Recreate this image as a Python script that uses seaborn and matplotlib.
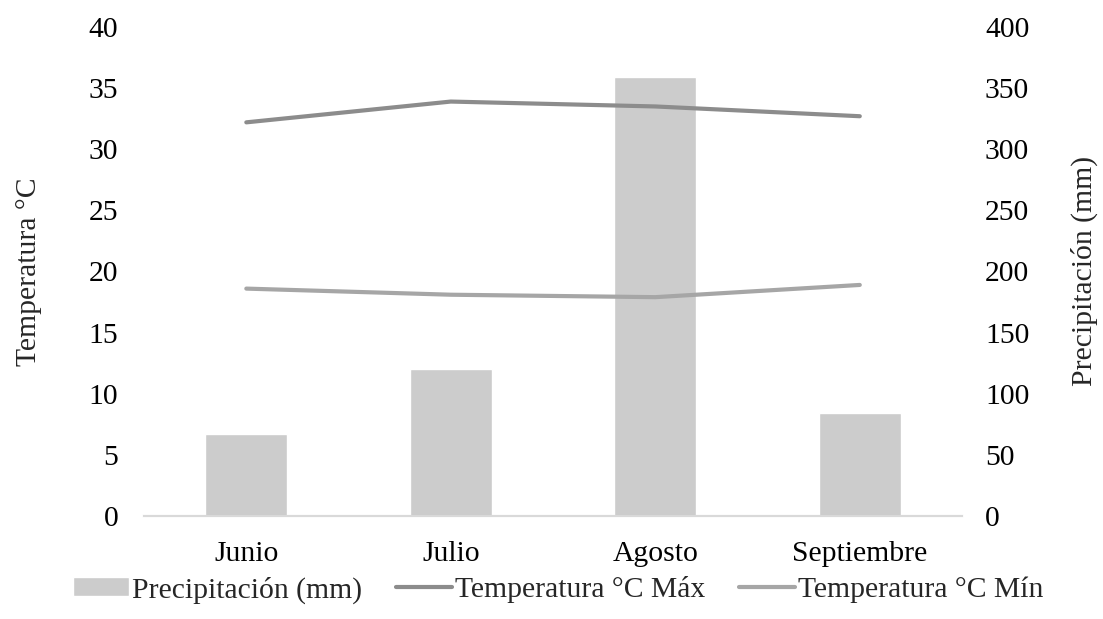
import numpy as np
import pandas as pd
import matplotlib
matplotlib.use('Agg')
import matplotlib.pyplot as plt
import seaborn as sns

# datos
meses = ['Junio', 'Julio', 'Agosto', 'Septiembre']
precipitacion = [67, 120, 359, 84]
temp_max = [32.2, 33.9, 33.5, 32.7]
temp_min = [18.6, 18.1, 17.9, 18.9]

sns.set_style('white')
plt.rcParams['font.family'] = ['Liberation Serif', 'DejaVu Serif']
plt.rcParams['font.size'] = 21.3

df = pd.DataFrame({'mes': meses, 'pos': np.arange(len(meses)),
                   'prec': precipitacion, 'tmax': temp_max, 'tmin': temp_min})

fig = plt.figure(figsize=(11.03, 6.19), dpi=100)
ax = fig.add_axes([0.1306, 0.1664, 0.7416, 0.79])

# barras de precipitación (eje derecho)
sns.barplot(data=df, x='mes', y='prec', color='#cccccc', saturation=1,
            width=0.4, ax=ax, label='Precipitación (mm)')

# líneas de temperatura (eje izquierdo)
ax2 = ax.twinx()
sns.lineplot(data=df, x='pos', y='tmax', color='#8c8c8c', linewidth=3,
             solid_capstyle='round', ax=ax2, label='Temperatura °C Máx')
sns.lineplot(data=df, x='pos', y='tmin', color='#a6a6a6', linewidth=3,
             solid_capstyle='round', ax=ax2, label='Temperatura °C Mín')

ax.set_ylim(0, 400)
ax.set_yticks(np.arange(0, 401, 50))
ax.yaxis.tick_right()
ax.yaxis.set_label_position('right')
ax.set_ylabel('Precipitación (mm)', labelpad=30)
ax.set_xlabel('')
ax.set_xlim(-0.5, 3.5)

ax2.set_ylim(0, 40)
ax2.set_yticks(np.arange(0, 41, 5))
ax2.yaxis.tick_left()
ax2.yaxis.set_label_position('left')
ax2.set_ylabel('Temperatura °C', labelpad=34)
ax2.set_xlabel('')
ax2.set_xlim(-0.5, 3.5)

for a in (ax, ax2):
    for s in ['top', 'left', 'right']:
        a.spines[s].set_visible(False)
    a.spines['bottom'].set_color('#d9d9d9')
    a.spines['bottom'].set_linewidth(1.5)
    a.tick_params(axis='both', length=0, colors='black')
ax.tick_params(axis='y', pad=16.5)
ax2.tick_params(axis='y', pad=18.5)
ax.tick_params(axis='x', pad=18)

# leyenda abajo
h1, l1 = ax.get_legend_handles_labels()
h2, l2 = ax2.get_legend_handles_labels()
ax2.get_legend().remove()
if ax.get_legend() is not None:
    ax.get_legend().remove()
fig.legend(h1 + h2, l1 + l2, loc='lower center', bbox_to_anchor=(0.506, -0.018),
           ncol=3, frameon=False, handlelength=1.9, handletextpad=0.1,
           columnspacing=1.15, handleheight=0.6)

fig.savefig('out.png', dpi=100)
